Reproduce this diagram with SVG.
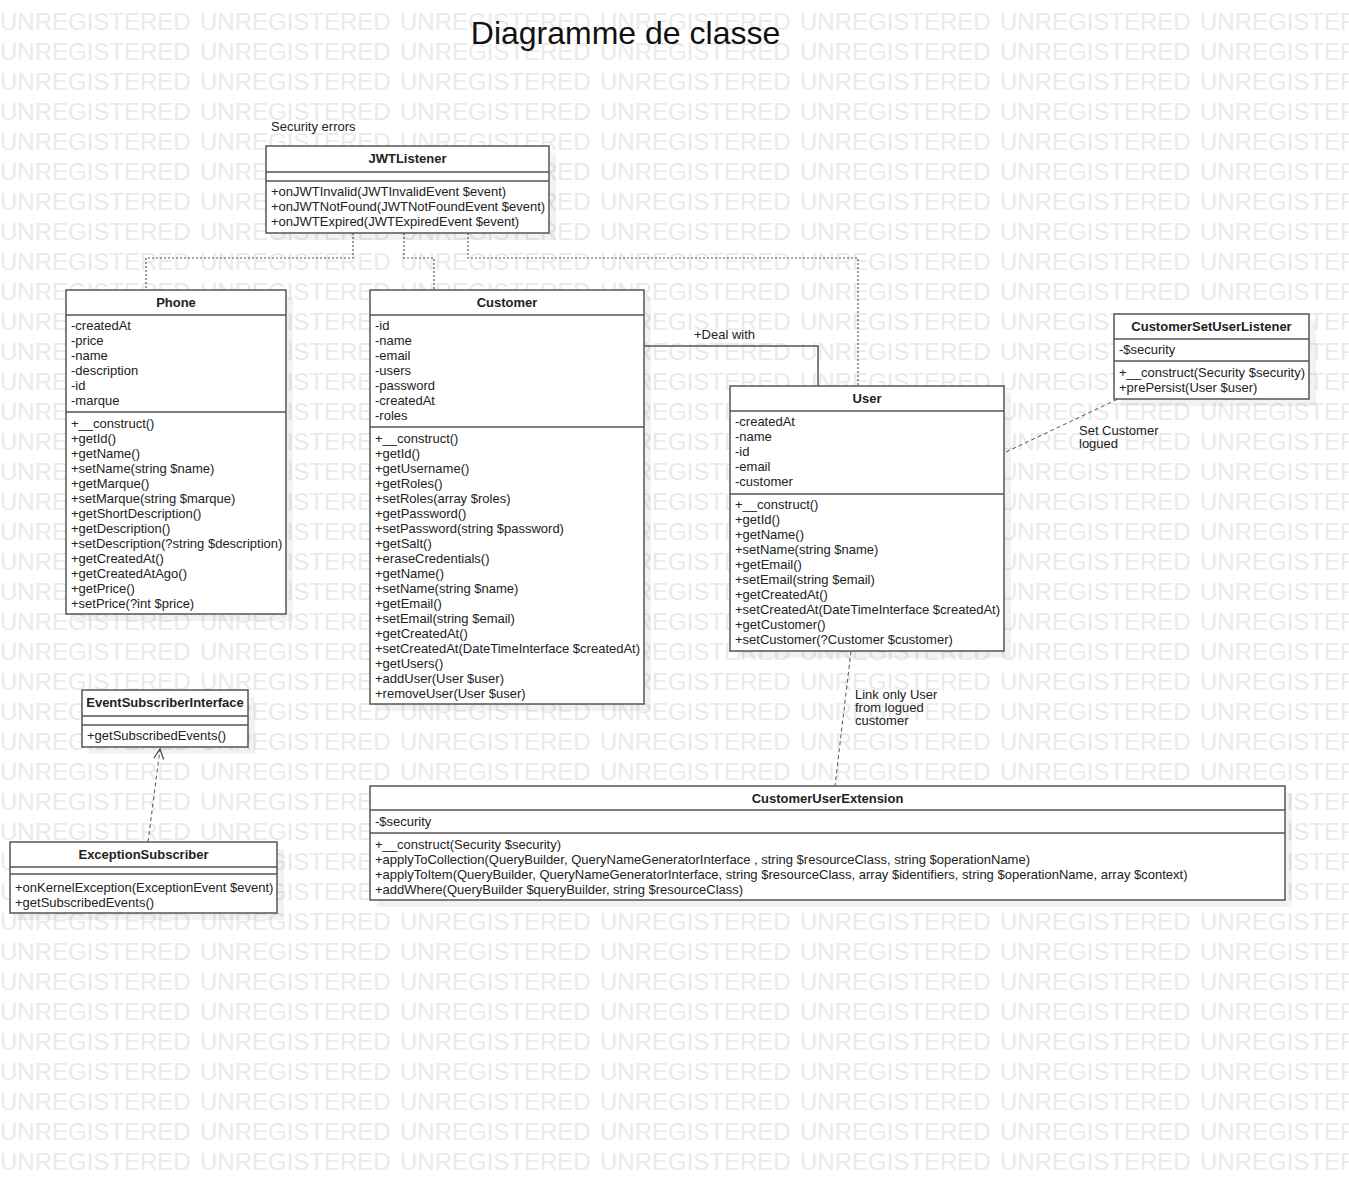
<svg xmlns="http://www.w3.org/2000/svg" xmlns:xlink="http://www.w3.org/1999/xlink" width="1349" height="1192" viewBox="0 0 1349 1192">
<style>
.wm{font-family:"Liberation Sans",Arial,sans-serif;font-size:24px;fill:#eaeaea}
.t{font-family:"Liberation Sans",Arial,sans-serif;font-size:13px;fill:#222}
.b{font-family:"Liberation Sans",Arial,sans-serif;font-size:13px;font-weight:bold;fill:#222;text-anchor:middle}
.box{fill:#fff;stroke:#555;stroke-width:1.5}
.sh{fill:#000;fill-opacity:0.05}
.sep{stroke:#555;stroke-width:1.5}
.dot{fill:none;stroke:#555;stroke-width:1.2;stroke-dasharray:2,2}
.dash{fill:none;stroke:#555;stroke-width:1;stroke-dasharray:4,3}
.solid{fill:none;stroke:#555;stroke-width:1.5}
.title{font-family:"Liberation Sans",Arial,sans-serif;font-size:32px;fill:#111;text-anchor:middle}
</style>
<defs>
<g id="wmrow">
<text class="wm" x="0">UNREGISTERED</text><text class="wm" x="200">UNREGISTERED</text><text class="wm" x="400">UNREGISTERED</text><text class="wm" x="600">UNREGISTERED</text><text class="wm" x="800">UNREGISTERED</text><text class="wm" x="1000">UNREGISTERED</text><text class="wm" x="1200">UNREGISTERED</text>
</g>
<marker id="open" viewBox="0 0 12 12" refX="11" refY="6" markerWidth="12" markerHeight="12" markerUnits="userSpaceOnUse" orient="auto"><path d="M1,1 L11,6 L1,11" fill="none" stroke="#444" stroke-width="1.2"/></marker>
</defs>
<rect width="1349" height="1192" fill="#fff"/>
<g id="watermark">
<use xlink:href="#wmrow" y="30"/><use xlink:href="#wmrow" y="60"/><use xlink:href="#wmrow" y="90"/><use xlink:href="#wmrow" y="120"/><use xlink:href="#wmrow" y="150"/><use xlink:href="#wmrow" y="180"/><use xlink:href="#wmrow" y="210"/><use xlink:href="#wmrow" y="240"/><use xlink:href="#wmrow" y="270"/><use xlink:href="#wmrow" y="300"/><use xlink:href="#wmrow" y="330"/><use xlink:href="#wmrow" y="360"/><use xlink:href="#wmrow" y="390"/><use xlink:href="#wmrow" y="420"/><use xlink:href="#wmrow" y="450"/><use xlink:href="#wmrow" y="480"/><use xlink:href="#wmrow" y="510"/><use xlink:href="#wmrow" y="540"/><use xlink:href="#wmrow" y="570"/><use xlink:href="#wmrow" y="600"/><use xlink:href="#wmrow" y="630"/><use xlink:href="#wmrow" y="660"/><use xlink:href="#wmrow" y="690"/><use xlink:href="#wmrow" y="720"/><use xlink:href="#wmrow" y="750"/><use xlink:href="#wmrow" y="780"/><use xlink:href="#wmrow" y="810"/><use xlink:href="#wmrow" y="840"/><use xlink:href="#wmrow" y="870"/><use xlink:href="#wmrow" y="900"/><use xlink:href="#wmrow" y="930"/><use xlink:href="#wmrow" y="960"/><use xlink:href="#wmrow" y="990"/><use xlink:href="#wmrow" y="1020"/><use xlink:href="#wmrow" y="1050"/><use xlink:href="#wmrow" y="1080"/><use xlink:href="#wmrow" y="1110"/><use xlink:href="#wmrow" y="1140"/><use xlink:href="#wmrow" y="1170"/>
</g>
<text class="title" x="625.5" y="44">Diagramme de classe</text>

<g id="connectors">
<polyline class="dot" points="353,233 353,258 146,258 146,290"/>
<polyline class="dot" points="404,233 404,258 434,258 434,290"/>
<polyline class="dot" points="468,233 468,258 858,258 858,386"/>
<polyline class="solid" points="644,346 818,346 818,386"/>
<line class="dash" x1="1006" y1="452" x2="1118" y2="399"/>
<line class="dash" x1="851" y1="651" x2="835" y2="786"/>
<line class="dash" x1="148" y1="842" x2="160" y2="749" marker-end="url(#open)"/>
<text class="t" x="271" y="131">Security errors</text>
<text class="t" x="694" y="339">+Deal with</text>
<text class="t" x="1079" y="435">Set Customer</text>
<text class="t" x="1079" y="448">logued</text>
<text class="t" x="855" y="699">Link only User</text>
<text class="t" x="855" y="712">from logued</text>
<text class="t" x="855" y="725">customer</text>
</g>

<g id="JWTListener">
<rect class="sh" x="273" y="153" width="283" height="87"/>
<rect class="box" x="266" y="146" width="283" height="87"/>
<line class="sep" x1="266" y1="172" x2="549" y2="172"/>
<line class="sep" x1="266" y1="181" x2="549" y2="181"/>
<text class="b" x="407.5" y="163">JWTListener</text>
<text class="t" x="271" y="196">+onJWTInvalid(JWTInvalidEvent $event)</text>
<text class="t" x="271" y="211">+onJWTNotFound(JWTNotFoundEvent $event)</text>
<text class="t" x="271" y="226">+onJWTExpired(JWTExpiredEvent $event)</text>
</g>

<g id="Phone">
<rect class="sh" x="73" y="297" width="220" height="324"/>
<rect class="box" x="66" y="290" width="220" height="324"/>
<line class="sep" x1="66" y1="315" x2="286" y2="315"/>
<line class="sep" x1="66" y1="412" x2="286" y2="412"/>
<text class="b" x="176" y="307">Phone</text>
<text class="t" x="71" y="330">-createdAt</text>
<text class="t" x="71" y="345">-price</text>
<text class="t" x="71" y="360">-name</text>
<text class="t" x="71" y="375">-description</text>
<text class="t" x="71" y="390">-id</text>
<text class="t" x="71" y="405">-marque</text>
<text class="t" x="71" y="428">+__construct()</text>
<text class="t" x="71" y="443">+getId()</text>
<text class="t" x="71" y="458">+getName()</text>
<text class="t" x="71" y="473">+setName(string $name)</text>
<text class="t" x="71" y="488">+getMarque()</text>
<text class="t" x="71" y="503">+setMarque(string $marque)</text>
<text class="t" x="71" y="518">+getShortDescription()</text>
<text class="t" x="71" y="533">+getDescription()</text>
<text class="t" x="71" y="548">+setDescription(?string $description)</text>
<text class="t" x="71" y="563">+getCreatedAt()</text>
<text class="t" x="71" y="578">+getCreatedAtAgo()</text>
<text class="t" x="71" y="593">+getPrice()</text>
<text class="t" x="71" y="608">+setPrice(?int $price)</text>
</g>

<g id="Customer">
<rect class="sh" x="377" y="297" width="274" height="414"/>
<rect class="box" x="370" y="290" width="274" height="414"/>
<line class="sep" x1="370" y1="315" x2="644" y2="315"/>
<line class="sep" x1="370" y1="427" x2="644" y2="427"/>
<text class="b" x="507" y="307">Customer</text>
<text class="t" x="375" y="330">-id</text>
<text class="t" x="375" y="345">-name</text>
<text class="t" x="375" y="360">-email</text>
<text class="t" x="375" y="375">-users</text>
<text class="t" x="375" y="390">-password</text>
<text class="t" x="375" y="405">-createdAt</text>
<text class="t" x="375" y="420">-roles</text>
<text class="t" x="375" y="443">+__construct()</text>
<text class="t" x="375" y="458">+getId()</text>
<text class="t" x="375" y="473">+getUsername()</text>
<text class="t" x="375" y="488">+getRoles()</text>
<text class="t" x="375" y="503">+setRoles(array $roles)</text>
<text class="t" x="375" y="518">+getPassword()</text>
<text class="t" x="375" y="533">+setPassword(string $password)</text>
<text class="t" x="375" y="548">+getSalt()</text>
<text class="t" x="375" y="563">+eraseCredentials()</text>
<text class="t" x="375" y="578">+getName()</text>
<text class="t" x="375" y="593">+setName(string $name)</text>
<text class="t" x="375" y="608">+getEmail()</text>
<text class="t" x="375" y="623">+setEmail(string $email)</text>
<text class="t" x="375" y="638">+getCreatedAt()</text>
<text class="t" x="375" y="653">+setCreatedAt(DateTimeInterface $createdAt)</text>
<text class="t" x="375" y="668">+getUsers()</text>
<text class="t" x="375" y="683">+addUser(User $user)</text>
<text class="t" x="375" y="698">+removeUser(User $user)</text>
</g>

<g id="User">
<rect class="sh" x="737" y="393" width="274" height="265"/>
<rect class="box" x="730" y="386" width="274" height="265"/>
<line class="sep" x1="730" y1="411" x2="1004" y2="411"/>
<line class="sep" x1="730" y1="494" x2="1004" y2="494"/>
<text class="b" x="867" y="403">User</text>
<text class="t" x="735" y="426">-createdAt</text>
<text class="t" x="735" y="441">-name</text>
<text class="t" x="735" y="456">-id</text>
<text class="t" x="735" y="471">-email</text>
<text class="t" x="735" y="486">-customer</text>
<text class="t" x="735" y="509">+__construct()</text>
<text class="t" x="735" y="524">+getId()</text>
<text class="t" x="735" y="539">+getName()</text>
<text class="t" x="735" y="554">+setName(string $name)</text>
<text class="t" x="735" y="569">+getEmail()</text>
<text class="t" x="735" y="584">+setEmail(string $email)</text>
<text class="t" x="735" y="599">+getCreatedAt()</text>
<text class="t" x="735" y="614">+setCreatedAt(DateTimeInterface $createdAt)</text>
<text class="t" x="735" y="629">+getCustomer()</text>
<text class="t" x="735" y="644">+setCustomer(?Customer $customer)</text>
</g>

<g id="CustomerSetUserListener">
<rect class="sh" x="1121" y="321" width="195" height="85"/>
<rect class="box" x="1114" y="314" width="195" height="85"/>
<line class="sep" x1="1114" y1="339" x2="1309" y2="339"/>
<line class="sep" x1="1114" y1="361" x2="1309" y2="361"/>
<text class="b" x="1211.5" y="331">CustomerSetUserListener</text>
<text class="t" x="1119" y="354">-$security</text>
<text class="t" x="1119" y="377">+__construct(Security $security)</text>
<text class="t" x="1119" y="392">+prePersist(User $user)</text>
</g>

<g id="EventSubscriberInterface">
<rect class="sh" x="89" y="697" width="166" height="57"/>
<rect class="box" x="82" y="690" width="166" height="57"/>
<line class="sep" x1="82" y1="716" x2="248" y2="716"/>
<line class="sep" x1="82" y1="725" x2="248" y2="725"/>
<text class="b" x="165" y="707">EventSubscriberInterface</text>
<text class="t" x="87" y="740">+getSubscribedEvents()</text>
</g>

<g id="ExceptionSubscriber">
<rect class="sh" x="17" y="849" width="267" height="71"/>
<rect class="box" x="10" y="842" width="267" height="71"/>
<line class="sep" x1="10" y1="867" x2="277" y2="867"/>
<line class="sep" x1="10" y1="874" x2="277" y2="874"/>
<text class="b" x="143.5" y="859">ExceptionSubscriber</text>
<text class="t" x="15" y="892">+onKernelException(ExceptionEvent $event)</text>
<text class="t" x="15" y="907">+getSubscribedEvents()</text>
</g>

<g id="CustomerUserExtension">
<rect class="sh" x="377" y="793" width="915" height="114"/>
<rect class="box" x="370" y="786" width="915" height="114"/>
<line class="sep" x1="370" y1="810" x2="1285" y2="810"/>
<line class="sep" x1="370" y1="833" x2="1285" y2="833"/>
<text class="b" x="827.5" y="803">CustomerUserExtension</text>
<text class="t" x="375" y="826">-$security</text>
<text class="t" x="375" y="849">+__construct(Security $security)</text>
<text class="t" x="375" y="864">+applyToCollection(QueryBuilder, QueryNameGeneratorInterface , string $resourceClass, string $operationName)</text>
<text class="t" x="375" y="879">+applyToItem(QueryBuilder, QueryNameGeneratorInterface, string $resourceClass, array $identifiers, string $operationName, array $context)</text>
<text class="t" x="375" y="894">+addWhere(QueryBuilder $queryBuilder, string $resourceClass)</text>
</g>
</svg>
